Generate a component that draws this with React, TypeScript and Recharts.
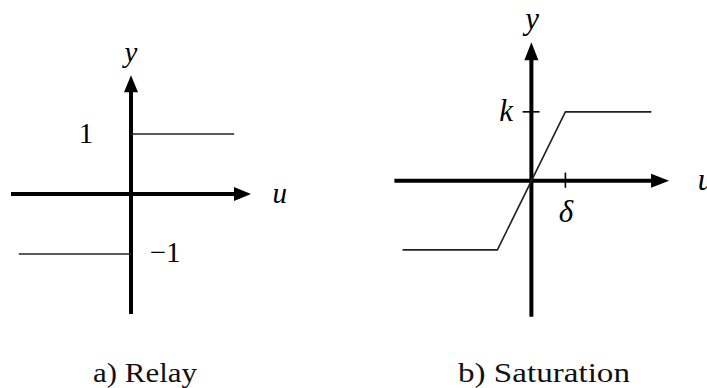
import { ComposedChart, Line, Scatter, XAxis, YAxis, ReferenceLine } from "recharts";

// a) Relay: y = +1 for u > 0, -1 for u < 0
const relayOn = [
  { x: 0, y: 1 },
  { x: 1.72, y: 1 },
];
const relayOff = [
  { x: -1.87, y: -1 },
  { x: 0, y: -1 },
];
const relayAxisU = [-2, 2];
const relayAxisY = [-2, 1.98];
const relayLabels = [
  { x: 0, y: 2.2, text: "y", italic: true },
  { x: -0.75, y: 0.85, text: "1", italic: false },
  { x: 0.57, y: -1.13, text: "−1", italic: false },
  { x: 2.48, y: -0.15, text: "u", italic: true },
];

// b) Saturation: linear for |u| < delta, clipped at +-k
const satCurve = [
  { x: -3.79, y: -1 },
  { x: -1, y: -1 },
  { x: 1, y: 1 },
  { x: 3.53, y: 1 },
];
const satAxisU = [-4.03, 4.05];
const satAxisY = [-1.97, 2.01];
const satK = 1;
const satDelta = 1;
const satLabels = [
  { x: 0.02, y: 2.2, text: "y", italic: true },
  { x: -0.74, y: 0.87, text: "k", italic: true },
  { x: 1.02, y: -0.59, text: "δ", italic: true },
  { x: 5.12, y: -0.13, text: "u", italic: true },
];

const captions = ["a) Relay", "b) Saturation"];

const FONT = "Liberation Serif, Tinos, Times New Roman, Times, Noto Serif, serif";

const arrowShape = (len: number, half: number) => (p: any) => {
  const { cx, cy, payload } = p;
  const pts =
    payload.dir === "right"
      ? `${cx},${cy} ${cx - len},${cy - half} ${cx - len},${cy + half}`
      : `${cx},${cy} ${cx - half},${cy + len} ${cx + half},${cy + len}`;
  return <polygon points={pts} fill="#000" />;
};

const labelShape = (size: number) => (p: any) => {
  const { cx, cy, payload } = p;
  return (
    <text
      x={cx}
      y={cy}
      textAnchor="middle"
      style={{
        fontFamily: FONT,
        fontSize: size,
        fontStyle: payload.italic ? "italic" : "normal",
      }}
      fill="#000"
    >
      {payload.text}
    </text>
  );
};

function RelayChart() {
  // 60px per unit on both axes
  const backU = 10 / 60;
  const arrows = [
    { x: relayAxisU[1], y: 0, dir: "right" },
    { x: 0, y: relayAxisY[1], dir: "up" },
  ];
  return (
    <div style={{ position: "absolute", left: -1, top: 2 }}>
      <ComposedChart width={348} height={384} margin={{ top: 0, right: 0, bottom: 0, left: 0 }}>
        <XAxis type="number" dataKey="x" domain={[-2.2, 3.6]} allowDataOverflow hide />
        <YAxis type="number" dataKey="y" domain={[-3.2, 3.2]} allowDataOverflow hide width={0} />
        <ReferenceLine
          segment={[{ x: relayAxisU[0], y: 0 }, { x: relayAxisU[1] - backU, y: 0 }]}
          stroke="#000"
          strokeWidth={4}
        />
        <ReferenceLine
          segment={[{ x: 0, y: relayAxisY[0] }, { x: 0, y: relayAxisY[1] - backU }]}
          stroke="#000"
          strokeWidth={4}
        />
        <Line data={relayOn} dataKey="y" type="linear" stroke="#222" strokeWidth={1.6} dot={false} isAnimationActive={false} />
        <Line data={relayOff} dataKey="y" type="linear" stroke="#222" strokeWidth={1.6} dot={false} isAnimationActive={false} />
        <Scatter data={arrows} shape={arrowShape(17, 7)} isAnimationActive={false} />
        <Scatter data={relayLabels} shape={labelShape(29)} isAnimationActive={false} />
      </ComposedChart>
    </div>
  );
}

function SaturationChart() {
  // 34px per unit horizontally, 69px per unit vertically
  const backU = 10 / 34;
  const backY = 10 / 69;
  const arrows = [
    { x: satAxisU[1], y: 0, dir: "right" },
    { x: 0, y: satAxisY[1], dir: "up" },
  ];
  return (
    <div style={{ position: "absolute", left: 375.1, top: -1.85 }}>
      <ComposedChart width={333.2} height={348.45} margin={{ top: 0, right: 0, bottom: 0, left: 0 }}>
        <XAxis type="number" dataKey="x" domain={[-4.6, 5.2]} allowDataOverflow hide />
        <YAxis type="number" dataKey="y" domain={[-2.4, 2.65]} allowDataOverflow hide width={0} />
        <ReferenceLine
          segment={[{ x: satAxisU[0], y: 0 }, { x: satAxisU[1] - backU, y: 0 }]}
          stroke="#000"
          strokeWidth={4}
        />
        <ReferenceLine
          segment={[{ x: 0, y: satAxisY[0] }, { x: 0, y: satAxisY[1] - backY }]}
          stroke="#000"
          strokeWidth={4}
        />
        {/* tick marks for k and delta */}
        <ReferenceLine segment={[{ x: -0.26, y: satK }, { x: 0.24, y: satK }]} stroke="#000" strokeWidth={1.6} />
        <ReferenceLine segment={[{ x: satDelta, y: 0.12 }, { x: satDelta, y: -0.1 }]} stroke="#000" strokeWidth={1.6} />
        <Line data={satCurve} dataKey="y" type="linear" stroke="#222" strokeWidth={1.6} dot={false} isAnimationActive={false} />
        <Scatter data={arrows} shape={arrowShape(18, 7)} isAnimationActive={false} />
        <Scatter data={satLabels} shape={labelShape(31)} isAnimationActive={false} />
      </ComposedChart>
    </div>
  );
}

export default function App() {
  return (
    <div
      style={{
        position: "absolute",
        left: 0,
        top: 0,
        width: 707,
        height: 388,
        overflow: "hidden",
        background: "#fff",
      }}
    >
      <RelayChart />
      <SaturationChart />
      <svg width={707} height={388} style={{ position: "absolute", left: 0, top: 0, pointerEvents: "none" }}>
        <text x={145} y={382} textAnchor="middle" style={{ fontFamily: FONT, fontSize: 28 }} fill="#111" textLength={104} lengthAdjust="spacingAndGlyphs">
          {captions[0]}
        </text>
        <text x={544} y={382} textAnchor="middle" style={{ fontFamily: FONT, fontSize: 28 }} fill="#111" textLength={172} lengthAdjust="spacingAndGlyphs">
          {captions[1]}
        </text>
      </svg>
    </div>
  );
}
